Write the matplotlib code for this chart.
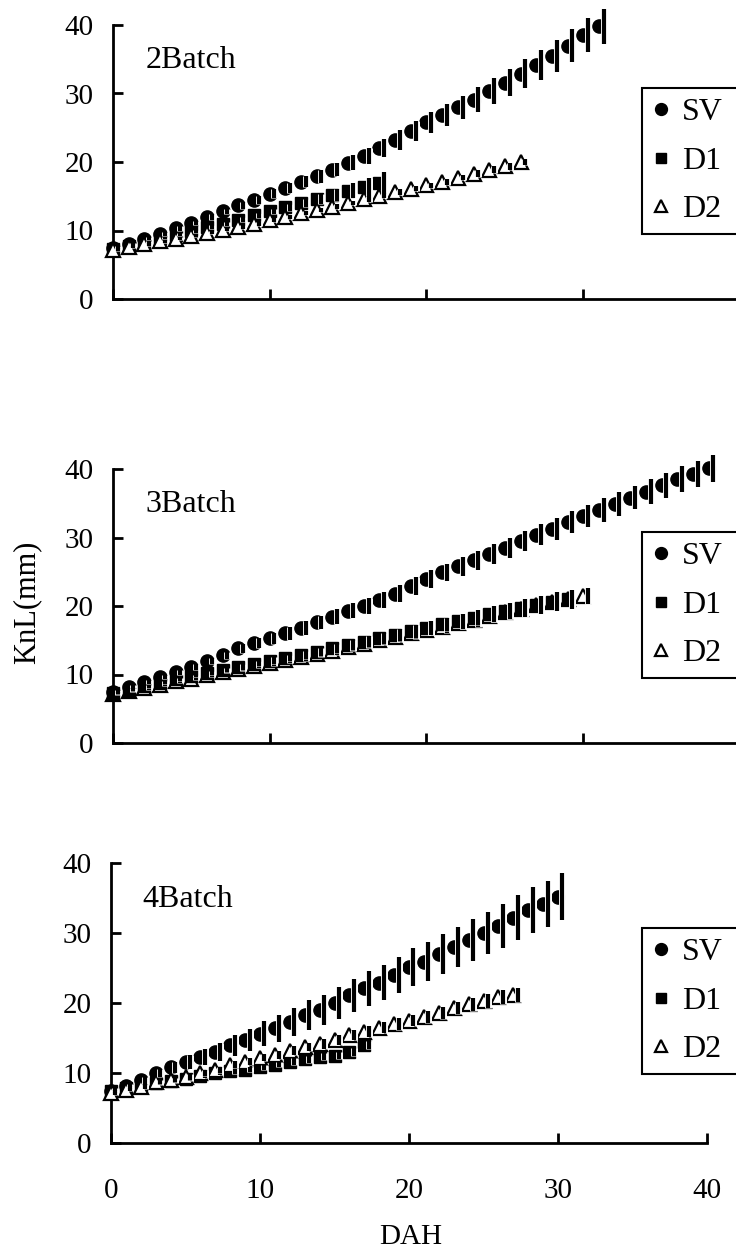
import numpy as np
import matplotlib
matplotlib.use('Agg')
import matplotlib.pyplot as plt
import matplotlib.patheffects as pe

# Times风格字体
plt.rcParams['font.family'] = 'serif'
plt.rcParams['font.serif'] = ['Liberation Serif', 'DejaVu Serif']
plt.rcParams['font.size'] = 20

# ---- 2Batch ----
sv2_x = np.arange(0, 32)
sv2_y = [7.5, 8.0, 8.8, 9.5, 10.3, 11.1, 12.0, 12.8, 13.7, 14.5, 15.4, 16.2, 17.1, 17.9, 18.9, 19.9,
         20.9, 22.0, 23.2, 24.5, 25.8, 26.9, 28.0, 29.1, 30.3, 31.6, 32.9, 34.2, 35.5, 37.0, 38.5, 39.8]
sv2_e = [0.2, 0.2, 0.2, 0.3, 0.3, 0.3, 0.4, 0.4, 0.5, 0.6, 0.6, 0.7, 0.8, 0.9, 1.0, 1.1,
         1.2, 1.3, 1.4, 1.5, 1.5, 1.6, 1.7, 1.8, 1.9, 2.0, 2.1, 2.2, 2.3, 2.4, 2.5, 2.6]
d1_2_x = np.arange(0, 18)
d1_2_y = [7.3, 7.8, 8.3, 8.9, 9.4, 9.9, 10.5, 11.0, 11.6, 12.2, 12.8, 13.4, 14.0, 14.6, 15.2, 15.8, 16.4, 17.0]
d1_2_e = [0.2, 0.2, 0.2, 0.2, 0.2, 0.2, 0.3, 0.3, 0.3, 0.4, 0.4, 0.5, 0.6, 0.7, 0.9, 1.1, 1.3, 1.6]
d2_2_x = np.arange(0, 27)
d2_2_y = [7.2, 7.6, 8.0, 8.4, 8.8, 9.2, 9.7, 10.1, 10.5, 11.0, 11.5, 12.0, 12.5, 13.0, 13.5, 14.0,
          14.6, 15.1, 15.6, 16.1, 16.6, 17.1, 17.7, 18.3, 18.9, 19.4, 20.0]
d2_2_e = [0.2, 0.2, 0.2, 0.2, 0.2, 0.2, 0.2, 0.2, 0.3, 0.3, 0.3, 0.3, 0.3, 0.3, 0.3, 0.3,
          0.4, 0.4, 0.4, 0.4, 0.4, 0.4, 0.4, 0.5, 0.5, 0.5, 0.5]

# ---- 3Batch ----
sv3_x = np.arange(0, 39)
sv3_y = [7.5, 8.2, 8.9, 9.6, 10.3, 11.1, 12.0, 12.8, 13.8, 14.6, 15.3, 16.0, 16.8, 17.6, 18.4, 19.3,
         20.0, 20.9, 21.8, 22.9, 24.0, 24.9, 25.8, 26.7, 27.6, 28.5, 29.5, 30.4, 31.3, 32.2, 33.1, 34.0,
         34.9, 35.8, 36.7, 37.6, 38.5, 39.3, 40.1]
sv3_e = [0.2, 0.2, 0.3, 0.3, 0.3, 0.4, 0.4, 0.5, 0.6, 0.7, 0.8, 0.9, 1.0, 1.0, 1.1, 1.1,
         1.2, 1.2, 1.2, 1.3, 1.3, 1.3, 1.4, 1.4, 1.4, 1.5, 1.5, 1.5, 1.6, 1.6, 1.6, 1.7,
         1.7, 1.7, 1.8, 1.8, 1.9, 1.9, 2.0]
d1_3_x = np.arange(0, 30)
d1_3_y = [7.3, 7.8, 8.3, 8.8, 9.3, 9.8, 10.2, 10.7, 11.1, 11.6, 12.0, 12.4, 12.8, 13.3, 13.8, 14.3,
          14.8, 15.3, 15.8, 16.3, 16.8, 17.3, 17.8, 18.3, 18.8, 19.3, 19.7, 20.2, 20.6, 21.0]
d1_3_e = [0.2, 0.2, 0.2, 0.2, 0.2, 0.2, 0.3, 0.3, 0.4, 0.4, 0.5, 0.5, 0.6, 0.6, 0.7, 0.7,
          0.8, 0.8, 0.9, 0.9, 1.0, 1.0, 1.1, 1.1, 1.2, 1.2, 1.3, 1.3, 1.4, 1.4]
d2_3_x = np.arange(0, 31)
d2_3_y = [7.2, 7.6, 8.0, 8.5, 9.0, 9.4, 9.9, 10.4, 10.8, 11.3, 11.7, 12.1, 12.5, 13.0, 13.5, 14.0,
          14.5, 15.0, 15.5, 16.0, 16.5, 17.0, 17.5, 18.0, 18.6, 19.1, 19.6, 20.1, 20.6, 21.0, 21.5]
d2_3_e = [0.2, 0.2, 0.2, 0.2, 0.2, 0.2, 0.2, 0.2, 0.3, 0.3, 0.4, 0.4, 0.5, 0.5, 0.6, 0.6,
          0.7, 0.7, 0.8, 0.8, 0.8, 0.9, 0.9, 1.0, 1.0, 1.0, 1.1, 1.1, 1.2, 1.2, 1.2]

# ---- 4Batch ----
sv4_x = np.arange(0, 31)
sv4_y = [7.5, 8.1, 9.0, 10.0, 10.8, 11.6, 12.3, 13.0, 14.0, 14.7, 15.6, 16.4, 17.3, 18.3, 19.0, 20.0,
         21.1, 22.1, 22.9, 24.0, 25.1, 25.9, 27.0, 28.0, 29.0, 30.0, 31.0, 32.2, 33.3, 34.1, 35.2]
sv4_e = [0.3, 0.4, 0.5, 0.6, 0.8, 1.0, 1.2, 1.3, 1.5, 1.6, 1.8, 1.9, 2.0, 2.1, 2.2, 2.3,
         2.4, 2.5, 2.5, 2.6, 2.7, 2.8, 2.8, 2.9, 3.0, 3.0, 3.1, 3.2, 3.3, 3.3, 3.4]
d1_4_x = np.arange(0, 18)
d1_4_y = [7.4, 7.9, 8.3, 8.6, 8.9, 9.2, 9.6, 10.0, 10.3, 10.5, 10.8, 11.2, 11.6, 12.0, 12.3, 12.5, 13.0, 14.0]
d1_4_e = [0.2, 0.2, 0.2, 0.3, 0.3, 0.3, 0.3, 0.3, 0.4, 0.4, 0.4, 0.4, 0.5, 0.5, 0.5, 0.5, 0.6, 0.6]
d2_4_x = np.arange(0, 28)
d2_4_y = [7.1, 7.6, 8.0, 8.7, 9.0, 9.4, 10.0, 10.4, 11.2, 11.6, 12.2, 12.6, 13.2, 13.7, 14.2, 14.7,
          15.4, 15.9, 16.5, 17.0, 17.5, 18.0, 18.6, 19.3, 19.8, 20.3, 20.8, 21.1]
d2_4_e = [0.2, 0.2, 0.3, 0.3, 0.3, 0.4, 0.4, 0.4, 0.5, 0.5, 0.5, 0.6, 0.6, 0.6, 0.7, 0.7,
          0.7, 0.8, 0.8, 0.8, 0.8, 0.9, 0.9, 0.9, 0.9, 1.0, 1.0, 1.0]

labels = ['SV', 'D1', 'D2']
x_ticks = [0, 10, 20, 30, 40]
y_ticks = [0, 10, 20, 30, 40]

W, H = 736, 1255
# 误差棒相对标记右移一点（原图就是这样）
bar_shift = 0.3

styles = {
    'SV': dict(marker='o', ms=9.5, mfc='k', mec='k'),
    'D1': dict(marker='s', ms=8.5, mfc='k', mec='k'),
    'D2': dict(marker='^', ms=10, mfc='w', mec='k', mew=1.6),
}


def draw_series(ax, x, y, e, name):
    ax.plot(x, y, ls='none', clip_on=False, zorder=3, **styles[name], label=name)
    eb = ax.errorbar(np.asarray(x) + bar_shift, y, yerr=e, fmt='none', ecolor='k',
                     elinewidth=3, capsize=0, zorder=3.5, clip_on=False)
    eb[2][0].set_path_effects([pe.Stroke(linewidth=5, foreground='w'), pe.Normal()])


def draw_panel(rect_px, title, series, legend_px, show_xlabels=False):
    x0, x40, y0, y40 = rect_px
    ax = fig.add_axes([x0 / W, 1 - y0 / H, (x40 - x0) / W, (y0 - y40) / H])
    for x, y, e, name in series:
        draw_series(ax, x, y, e, name)
    ax.set_xlim(0, 40)
    ax.set_ylim(0, 40)
    ax.set_xticks(x_ticks)
    ax.set_yticks(y_ticks)
    for s in ['top', 'right']:
        ax.spines[s].set_visible(False)
    for s in ['left', 'bottom']:
        ax.spines[s].set_linewidth(2)
    ax.tick_params(axis='both', direction='in', length=7, width=2, labelsize=21)
    ax.tick_params(axis='y', pad=14)
    ax.tick_params(axis='x', pad=25, labelbottom=show_xlabels)
    ax.text(0.052, 0.87, title, transform=ax.transAxes, fontsize=23, va='center', ha='left')

    handles, labs = ax.get_legend_handles_labels()
    order = [labs.index(n) for n in labels]
    # 图例框右侧超出画布，和原图一样
    leg = ax.legend([handles[i] for i in order], [labs[i] for i in order],
                    loc='upper left',
                    bbox_to_anchor=(legend_px[0] / W, 1 - legend_px[1] / H, 110 / W, 0.0),
                    mode='expand', bbox_transform=fig.transFigure, borderaxespad=0, fontsize=23,
                    handlelength=0.6, handletextpad=0.35, borderpad=0.31, labelspacing=0.6,
                    fancybox=False, framealpha=1, edgecolor='k', markerscale=0.9)
    leg.get_frame().set_linewidth(1.5)
    return ax


fig = plt.figure(figsize=(W / 100, H / 100), dpi=100)

draw_panel((113, 740, 299, 25), '2Batch',
           [(sv2_x, sv2_y, sv2_e, 'SV'), (d1_2_x, d1_2_y, d1_2_e, 'D1'), (d2_2_x, d2_2_y, d2_2_e, 'D2')],
           (642, 88))
draw_panel((113, 740, 743, 469), '3Batch',
           [(sv3_x, sv3_y, sv3_e, 'SV'), (d2_3_x, d2_3_y, d2_3_e, 'D2'), (d1_3_x, d1_3_y, d1_3_e, 'D1')],
           (642, 532))
draw_panel((111, 707, 1143, 863), '4Batch',
           [(sv4_x, sv4_y, sv4_e, 'SV'), (d1_4_x, d1_4_y, d1_4_e, 'D1'), (d2_4_x, d2_4_y, d2_4_e, 'D2')],
           (642, 928), show_xlabels=True)

fig.text(27 / W, 1 - 602 / H, 'KnL(mm)', rotation=90, fontsize=22, ha='center', va='center')
fig.text(411 / W, 1 - 1237 / H, 'DAH', fontsize=21, ha='center', va='center')

fig.savefig('out.png', dpi=100)
